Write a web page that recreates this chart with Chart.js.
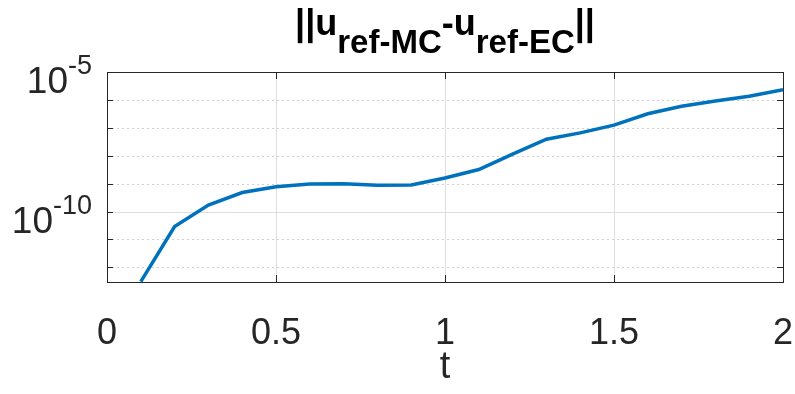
<!DOCTYPE html>
<html>
<head>
<meta charset="utf-8">
<script src="https://cdn.jsdelivr.net/npm/chart.js@4.4.1/dist/chart.umd.min.js"></script>
<style>
  html,body{margin:0;padding:0;background:#fff;}
  #wrap{width:795px;height:394px;position:relative;}
</style>
</head>
<body>
<div id="wrap"><canvas id="c"></canvas></div>
<script>
// data
const tValues=[0.1,0.2,0.3,0.4,0.5,0.6,0.7,0.8,0.9,1.0,1.1,1.2,1.3,1.4,1.5,1.6,1.7,1.8,1.9,2.0];
const errValues=[3.1e-13,2.9e-11,1.7e-10,4.8e-10,7.8e-10,9.8e-10,1.0e-9,8.7e-10,8.9e-10,1.6e-9,3.2e-9,1.15e-8,3.9e-8,6.6e-8,1.25e-7,3.2e-7,5.9e-7,9.1e-7,1.35e-6,2.3e-6];
const xTicks=[0,0.5,1,1.5,2];
const xTickLabels=['0','0.5','1','1.5','2'];
const yTickExp=[-12,-11,-10,-9,-8,-7,-6,-5];
const yLabelExp=[-10,-5];

const AX='#262626', GRID='#dedede', FONT='"Liberation Sans", Arial, sans-serif';

// grid, box, inward ticks, y labels with exponents, title with subscripts
const matlabLook={
  id:'matlabLook',
  beforeDatasetsDraw(chart){
    const {ctx,chartArea:a,scales:{x,y}}=chart;
    ctx.save();
    ctx.lineWidth=1;
    ctx.strokeStyle=GRID;
    xTicks.forEach(v=>{
      const px=Math.round(x.getPixelForValue(v))+0.5;
      ctx.beginPath();ctx.moveTo(px,a.top);ctx.lineTo(px,a.bottom);ctx.stroke();
    });
    yTickExp.forEach(e=>{
      const py=Math.round(y.getPixelForValue(Math.pow(10,e)))+0.5;
      ctx.setLineDash(yLabelExp.includes(e)?[]:[2,3]);
      ctx.strokeStyle=yLabelExp.includes(e)?GRID:'#d0d0d0';
      ctx.beginPath();ctx.moveTo(a.left,py);ctx.lineTo(a.right,py);ctx.stroke();
    });
    ctx.restore();
  },
  afterDatasetsDraw(chart){
    const {ctx,chartArea:a,scales:{x,y}}=chart;
    ctx.save();
    ctx.strokeStyle=AX;ctx.lineWidth=1;ctx.setLineDash([]);
    ctx.strokeRect(Math.round(a.left)+0.5,Math.round(a.top)+0.5,Math.round(a.right-a.left),Math.round(a.bottom-a.top));
    ctx.beginPath();
    xTicks.forEach(v=>{
      const px=Math.round(x.getPixelForValue(v))+0.5;
      ctx.moveTo(px,a.bottom);ctx.lineTo(px,a.bottom-7);
      ctx.moveTo(px,a.top);ctx.lineTo(px,a.top+7);
    });
    yTickExp.forEach(e=>{
      const py=Math.round(y.getPixelForValue(Math.pow(10,e)))+0.5;
      ctx.moveTo(a.left,py);ctx.lineTo(a.left+6,py);
      ctx.moveTo(a.right,py);ctx.lineTo(a.right-6,py);
    });
    ctx.stroke();
    // y labels 10^n
    ctx.fillStyle=AX;ctx.textBaseline='alphabetic';ctx.textAlign='left';
    yLabelExp.forEach(e=>{
      const py=y.getPixelForValue(Math.pow(10,e));
      const base='10', sup=String(e);
      ctx.font='37px '+FONT;
      const wb=ctx.measureText(base).width;
      ctx.font='27px '+FONT;
      const ws=ctx.measureText(sup).width;
      const x0=a.left-15-wb-ws;
      ctx.font='37px '+FONT;
      ctx.fillText(base,x0,py+21);
      ctx.font='27px '+FONT;
      ctx.fillText(sup,x0+wb,py+2);
    });
    // title ||u_{ref-MC}-u_{ref-EC}||
    const parts=[['||u',0],['ref-MC',1],['-u',0],['ref-EC',1],['||',0]];
    const fb='bold 36px '+FONT, fs='bold 33px '+FONT;
    let tw=0;
    parts.forEach(p=>{ctx.font=p[1]?fs:fb;tw+=ctx.measureText(p[0]).width;});
    let cx=(a.left+a.right)/2-tw/2;
    ctx.fillStyle='#000';
    parts.forEach(p=>{
      ctx.font=p[1]?fs:fb;
      ctx.fillText(p[0],cx,p[1]?53:35);
      cx+=ctx.measureText(p[0]).width;
    });
    ctx.restore();
  }
};

new Chart(document.getElementById('c').getContext('2d'),{
  type:'line',
  data:{labels:tValues,datasets:[{
    data:tValues.map((t,i)=>({x:t,y:errValues[i]})),
    borderColor:'#0072BD',borderWidth:3.5,pointRadius:0,tension:0,fill:false
  }]},
  options:{
    responsive:true,maintainAspectRatio:false,animation:false,
    layout:{padding:{top:72,right:0,left:0,bottom:0}},
    plugins:{legend:{display:false},tooltip:{enabled:false},title:{display:false}},
    scales:{
      x:{type:'linear',min:0,max:2,
        grid:{display:false},border:{display:false},
        afterBuildTicks:s=>{s.ticks=xTicks.map(v=>({value:v}));},
        ticks:{autoSkip:false,maxRotation:0,color:AX,padding:22,font:{family:FONT,size:36},
          callback:(v,i)=>xTickLabels[i]},
        title:{display:true,text:'t',color:AX,font:{family:FONT,size:38},padding:{top:0}},
        afterFit:s=>{s.height=112;s.paddingLeft=0;s.paddingRight=12;}
      },
      y:{type:'logarithmic',min:Math.pow(10,-12.516),max:1e-5,
        grid:{display:false},border:{display:false},
        ticks:{display:false},
        afterBuildTicks:s=>{s.ticks=yTickExp.map(e=>({value:Math.pow(10,e)}));},
        afterFit:s=>{s.width=107;}
      }
    }
  },
  plugins:[matlabLook]
});
</script>
</body>
</html>
